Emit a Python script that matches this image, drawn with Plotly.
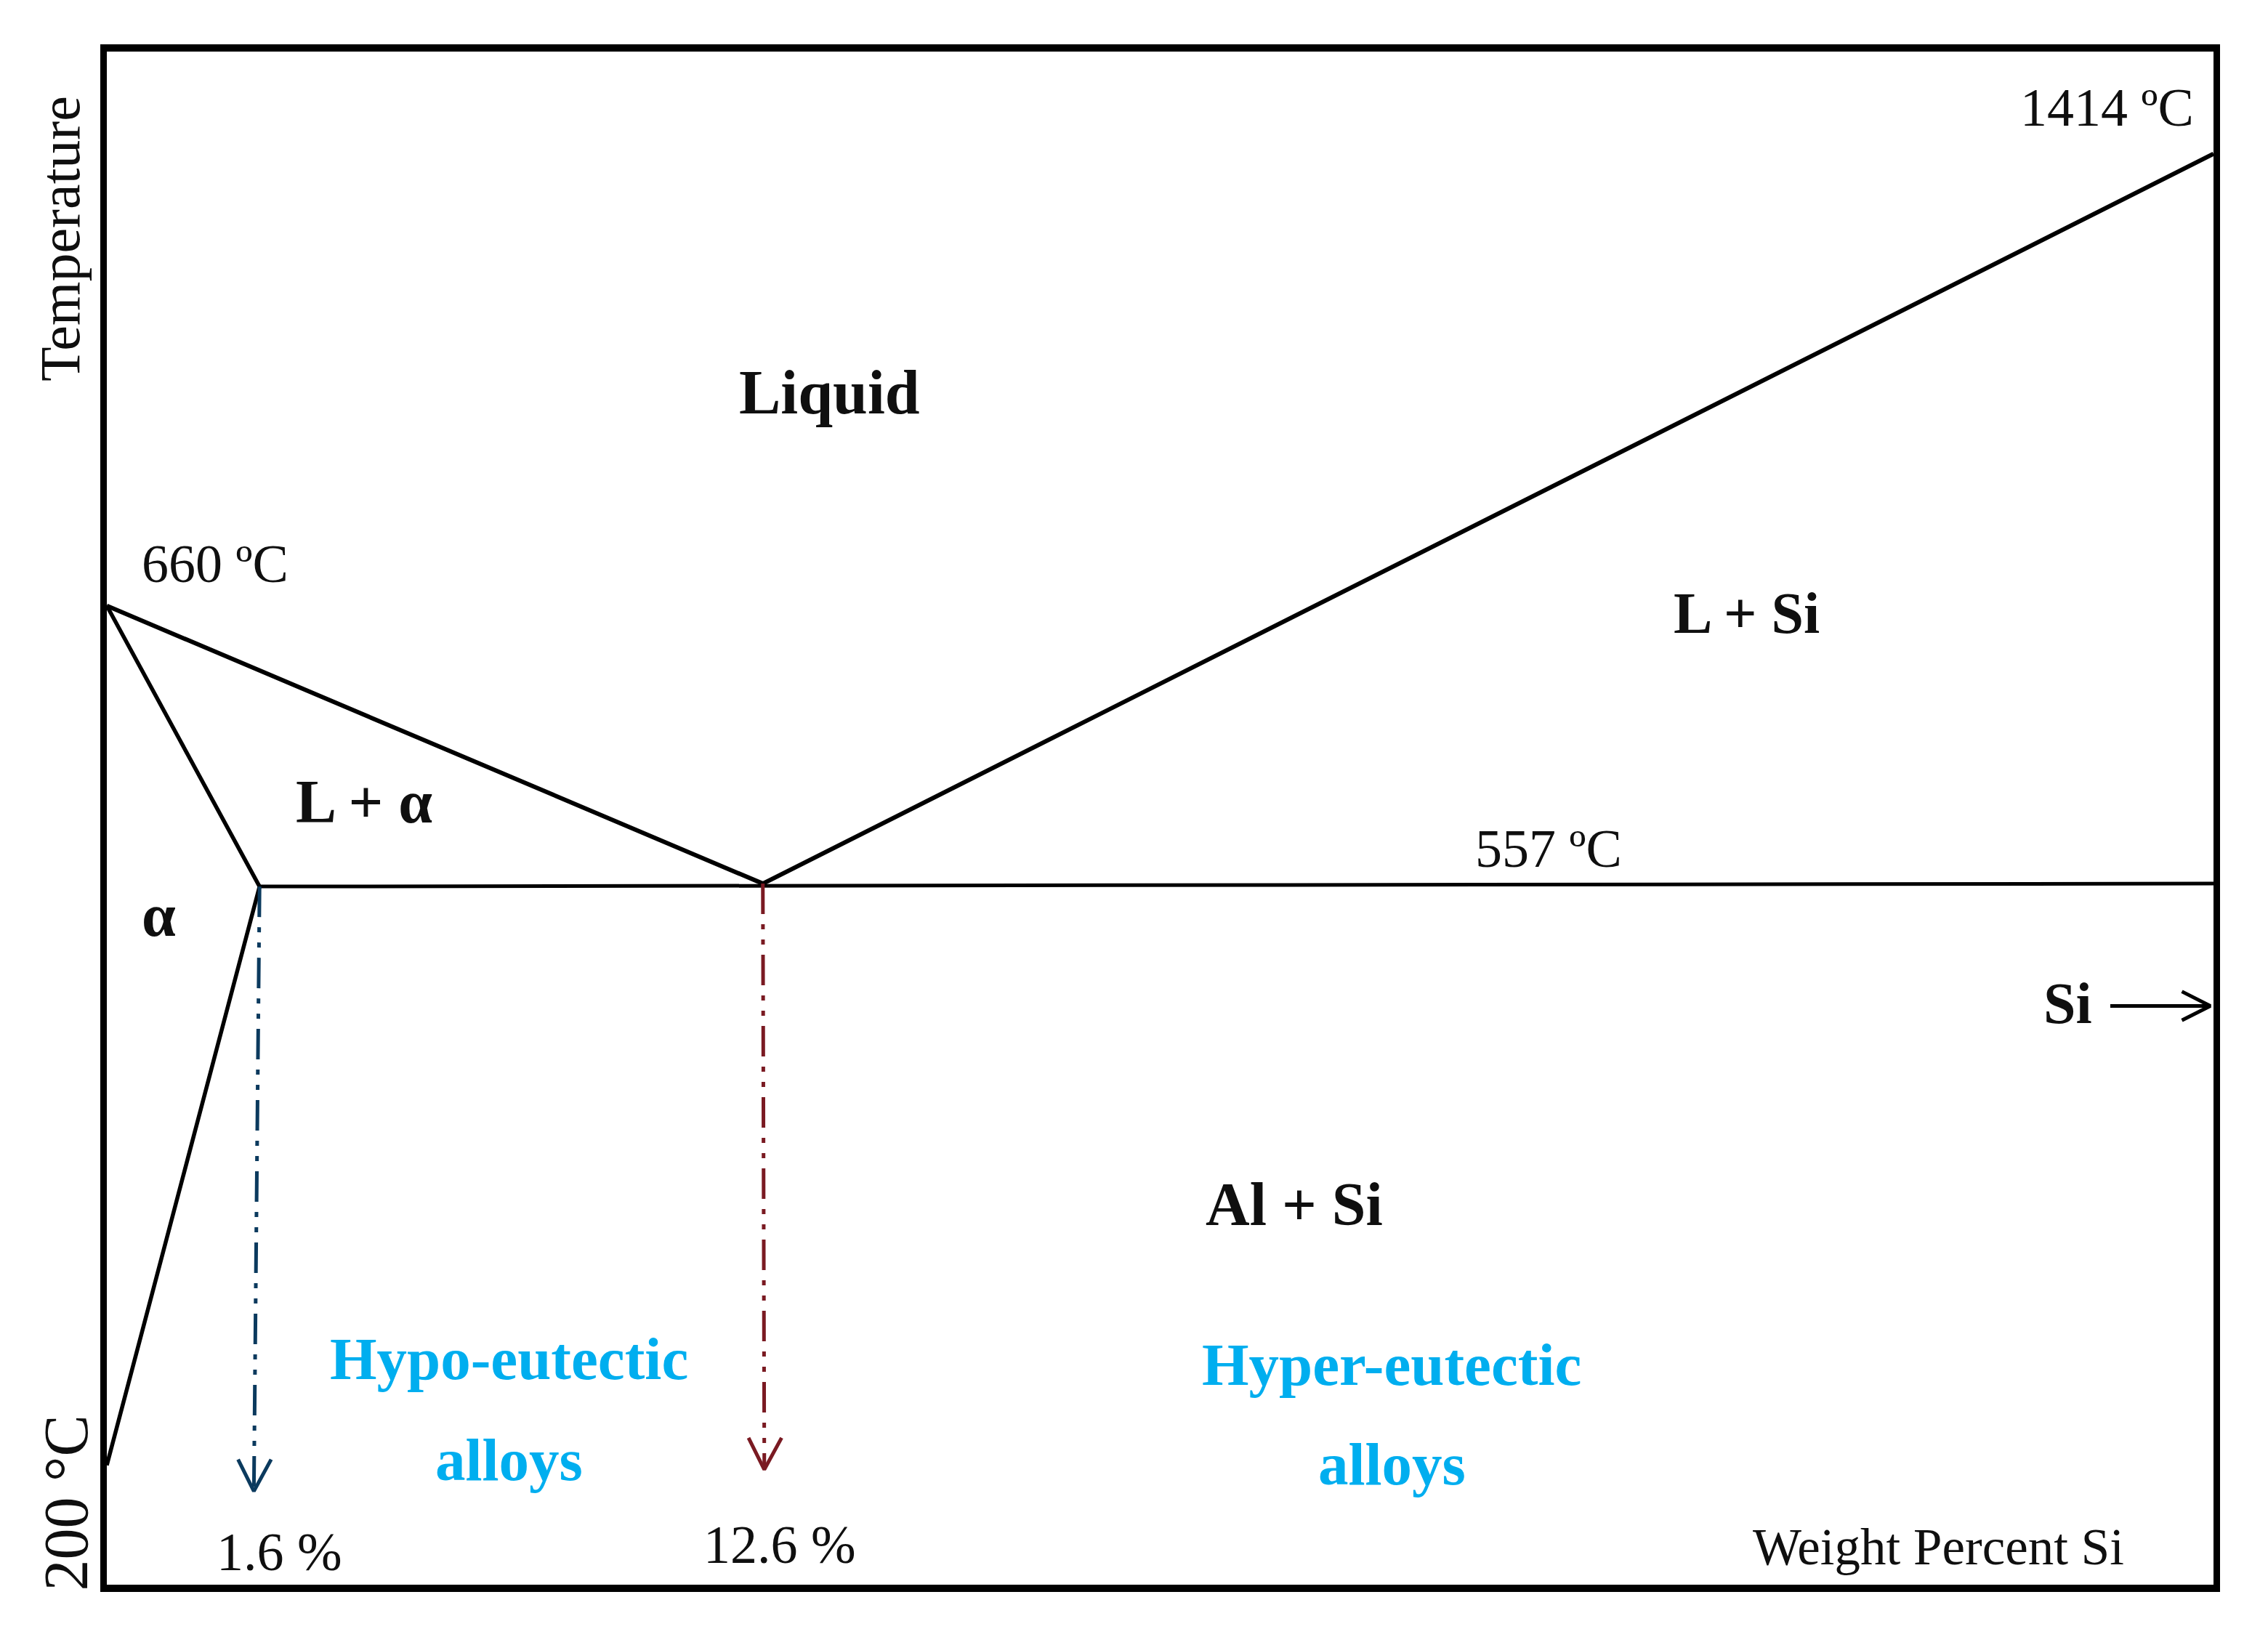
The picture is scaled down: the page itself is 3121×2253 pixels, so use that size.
import plotly.graph_objects as go

# schematic diagram units: not to scale, both axes run 0-100
liquidus_x = [0, 31.14, 100]
liquidus_y = [63.85, 45.73, 93.33]
solidus_x = [0, 7.25, 0]
solidus_y = [63.85, 45.54, 7.79]
eutectic_x = [7.25, 100]
eutectic_y = [45.54, 45.73]
hypo_drop_x = [7.25, 6.98]
hypo_drop_y = [45.54, 6.10]
hypo_head_x = [6.23, 6.98, 7.80]
hypo_head_y = [8.17, 6.10, 8.17]
eutectic_drop_x = [31.14, 31.21]
eutectic_drop_y = [45.73, 7.51]
eutectic_head_x = [30.46, 31.21, 32.03]
eutectic_head_y = [9.58, 7.51, 9.58]
si_arrow_x = [95.1, 99.85]
si_arrow_y = [37.75, 37.75]
si_head_x = [98.5, 99.85, 98.5]
si_head_y = [38.69, 37.75, 36.81]

black = '#000000'
dark = '#0f0f0f'
cyan = '#00aeef'
blue = '#0b3a5e'
red = '#7a1a22'
serif = 'Liberation Serif'

# text, x, y, size, bold, colour
labels = [
    ('Liquid', 34.3, 77.78, 86, True, dark),
    ('L + Si', 77.85, 63.37, 80, True, dark),
    ('L + α', 12.2, 51.09, 84, True, dark),
    ('α', 2.45, 43.65, 84, True, dark),
    ('Al + Si', 56.35, 24.8, 84, True, dark),
    ('Si', 93.1, 37.93, 80, True, dark),
    ('660 ºC', 5.15, 66.58, 74, False, dark),
    ('1414 ºC', 94.95, 96.35, 74, False, dark),
    ('557 ºC', 68.45, 47.99, 74, False, dark),
    ('1.6 %', 8.2, 2.15, 74, False, dark),
    ('12.6 %', 31.95, 2.62, 74, False, dark),
    ('Weight Percent Si', 86.95, 2.45, 71, False, dark),
    ('Hypo-eutectic', 19.1, 14.72, 83, True, cyan),
    ('alloys', 19.1, 8.16, 83, True, cyan),
    ('Hyper-eutectic', 61.0, 14.36, 83, True, cyan),
    ('alloys', 61.0, 7.88, 83, True, cyan),
]

fig = go.Figure()

for x, y, width in [(liquidus_x, liquidus_y, 6), (solidus_x, solidus_y, 5.5),
                    (eutectic_x, eutectic_y, 5)]:
    fig.add_trace(go.Scatter(x=x, y=y, mode='lines',
                             line=dict(color=black, width=width)))

# dash-dot-dot drops from the solvus and eutectic points
for x, y, head_x, head_y, color in [(hypo_drop_x, hypo_drop_y, hypo_head_x, hypo_head_y, blue),
                                    (eutectic_drop_x, eutectic_drop_y, eutectic_head_x,
                                     eutectic_head_y, red)]:
    fig.add_trace(go.Scatter(x=x, y=y, mode='lines',
                             line=dict(color=color, width=5,
                                       dash='42px,14px,7px,14px,7px,14px')))
    fig.add_trace(go.Scatter(x=head_x, y=head_y, mode='lines',
                             line=dict(color=color, width=5)))

fig.add_trace(go.Scatter(x=si_arrow_x, y=si_arrow_y, mode='lines',
                         line=dict(color=black, width=5)))
fig.add_trace(go.Scatter(x=si_head_x, y=si_head_y, mode='lines',
                         line=dict(color=black, width=5)))

for text, x, y, size, bold, color in labels:
    fig.add_annotation(x=x, y=y, text=f'<b>{text}</b>' if bold else text, showarrow=False,
                       font=dict(family=serif, size=size, color=color))

# these two sit outside the frame, so they go on paper coordinates
fig.add_annotation(xref='paper', yref='paper', x=-0.0222, y=0.878, text='Temperature',
                   xanchor='center', yanchor='middle', textangle=-90, showarrow=False,
                   font=dict(family=serif, size=78, color=dark))
fig.add_annotation(xref='paper', yref='paper', x=-0.0192, y=0.0535, text='200 °C',
                   xanchor='center', yanchor='middle', textangle=-90, showarrow=False,
                   font=dict(family=serif, size=86, color=dark))

fig.update_xaxes(range=[0, 100], showgrid=False, zeroline=False, showticklabels=False,
                 ticks='', mirror=True, showline=True, linecolor=black, linewidth=10)
fig.update_yaxes(range=[0, 100], showgrid=False, zeroline=False, showticklabels=False,
                 ticks='', mirror=True, showline=True, linecolor=black, linewidth=9)

fig.update_layout(
    width=3121,
    height=2253,
    margin=dict(l=139, r=83, t=63, b=80),
    showlegend=False,
    paper_bgcolor='white',
    plot_bgcolor='white',
)

fig.write_html("out.html")
